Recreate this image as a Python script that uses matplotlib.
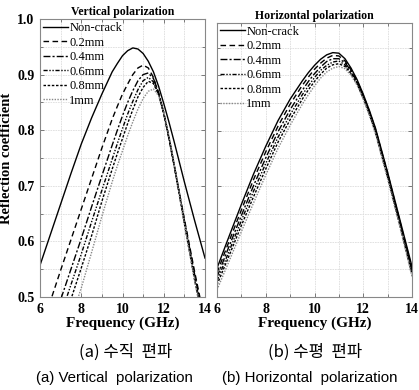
import matplotlib
matplotlib.use("Agg")
import matplotlib.pyplot as plt
from matplotlib.ticker import MultipleLocator

freq = [6, 6.5, 7, 7.5, 8, 8.5, 9, 9.5, 9.75, 10, 10.25, 10.5, 10.75, 11,
        11.25, 11.5, 11.75, 12, 12.25, 12.5, 13, 13.5, 14]
labels = ["Non-crack", "0.2mm", "0.4mm", "0.6mm", "0.8mm", "1mm"]

# Vertical polarization
v_noncrack = [0.557, 0.612, 0.667, 0.722, 0.775, 0.822, 0.865, 0.905, 0.920, 0.934, 0.943, 0.948,
              0.946, 0.938, 0.924, 0.905, 0.879, 0.848, 0.815, 0.780, 0.707, 0.637, 0.570]
v_02 = [0.440, 0.492, 0.548, 0.603, 0.658, 0.713, 0.768, 0.820, 0.843, 0.865, 0.883, 0.900,
        0.912, 0.917, 0.912, 0.895, 0.866, 0.830, 0.785, 0.737, 0.640, 0.545, 0.455]
v_04 = [0.385, 0.440, 0.495, 0.550, 0.605, 0.662, 0.718, 0.773, 0.800, 0.826, 0.850, 0.871,
        0.889, 0.900, 0.903, 0.893, 0.868, 0.832, 0.788, 0.740, 0.638, 0.540, 0.448]
v_06 = [0.360, 0.410, 0.467, 0.522, 0.577, 0.635, 0.692, 0.748, 0.776, 0.803, 0.829, 0.852,
        0.873, 0.889, 0.895, 0.887, 0.865, 0.830, 0.787, 0.738, 0.635, 0.535, 0.443]
v_08 = [0.330, 0.385, 0.440, 0.496, 0.552, 0.610, 0.672, 0.730, 0.758, 0.785, 0.812, 0.837,
        0.860, 0.877, 0.888, 0.884, 0.864, 0.830, 0.787, 0.737, 0.632, 0.530, 0.438]
v_10 = [0.290, 0.345, 0.400, 0.460, 0.516, 0.580, 0.645, 0.707, 0.736, 0.763, 0.790, 0.815,
        0.838, 0.857, 0.870, 0.874, 0.862, 0.832, 0.790, 0.740, 0.632, 0.528, 0.435]

# Horizontal polarization
h_noncrack = [0.552, 0.610, 0.667, 0.722, 0.772, 0.818, 0.857, 0.890, 0.905, 0.918, 0.929, 0.937,
              0.941, 0.940, 0.930, 0.913, 0.892, 0.866, 0.837, 0.805, 0.725, 0.640, 0.555]
h_02 = [0.544, 0.601, 0.657, 0.712, 0.762, 0.808, 0.848, 0.882, 0.897, 0.911, 0.922, 0.931,
        0.936, 0.935, 0.926, 0.910, 0.890, 0.864, 0.835, 0.803, 0.723, 0.637, 0.551]
h_04 = [0.536, 0.592, 0.647, 0.701, 0.751, 0.798, 0.838, 0.873, 0.889, 0.903, 0.915, 0.925,
        0.930, 0.930, 0.923, 0.908, 0.888, 0.862, 0.833, 0.801, 0.720, 0.635, 0.548]
h_06 = [0.529, 0.583, 0.638, 0.691, 0.741, 0.788, 0.829, 0.865, 0.881, 0.896, 0.909, 0.918,
        0.924, 0.926, 0.919, 0.905, 0.886, 0.861, 0.832, 0.799, 0.718, 0.632, 0.544]
h_08 = [0.522, 0.575, 0.629, 0.681, 0.731, 0.779, 0.820, 0.857, 0.874, 0.889, 0.902, 0.913,
        0.919, 0.921, 0.916, 0.903, 0.884, 0.859, 0.830, 0.797, 0.716, 0.630, 0.541]
h_10 = [0.513, 0.565, 0.618, 0.670, 0.720, 0.768, 0.810, 0.848, 0.865, 0.881, 0.895, 0.906,
        0.913, 0.916, 0.912, 0.900, 0.882, 0.857, 0.828, 0.795, 0.713, 0.627, 0.537]

styles = [
    dict(color="black", linestyle="-", lw=1.0),
    dict(color="black", linestyle=(0, (4, 2.5)), lw=1.0),
    dict(color="black", linestyle=(0, (5, 1.5, 1.5, 1.5)), lw=1.0),
    dict(color="black", linestyle=(0, (3, 1.2, 1, 1.2, 1, 1.2)), lw=1.0),
    dict(color="black", linestyle=(0, (1.8, 1.2)), lw=1.0),
    dict(color="#888888", linestyle=(0, (1, 1)), lw=1.0),
]

serif = "Liberation Serif"
fig = plt.figure(figsize=(4.19, 3.90), dpi=100)
ax1 = fig.add_axes([40 / 419, 93 / 390, 165 / 419, 278 / 390])
ax2 = fig.add_axes([217 / 419, 93 / 390, 195 / 419, 274.3 / 390])


def setup(ax, series, title, ytop, show_y):
    for s, lab, st in zip(series, labels, styles):
        ax.plot(freq, s, label=lab, **st)
    ax.set_xlim(6, 14)
    ax.set_ylim(0.5, ytop)
    ax.xaxis.set_major_locator(MultipleLocator(2))
    ax.xaxis.set_minor_locator(MultipleLocator(1))
    ax.yaxis.set_major_locator(MultipleLocator(0.1))
    ax.yaxis.set_minor_locator(MultipleLocator(0.05))
    ax.grid(True, which="both", color="#dddddd", lw=0.6, linestyle=(0, (2, 1)))
    ax.set_axisbelow(True)
    ax.tick_params(which="both", direction="in", top=True, right=True,
                   labelsize=10, width=0.6, color="#666666", pad=4)
    ax.tick_params(which="major", length=3)
    ax.tick_params(which="minor", length=2)
    for lbl in ax.get_xticklabels() + ax.get_yticklabels():
        lbl.set_fontfamily(serif)
        lbl.set_fontweight("bold")
    if show_y:
        ax.set_yticks([0.5, 0.6, 0.7, 0.8, 0.9, 1.0])
        ax.set_yticklabels(["0.5", "0.6", "0.7", "0.8", "0.9", "1.0"],
                           fontfamily=serif, fontweight="bold", fontsize=10)
        ax.set_ylabel("Reflection coefficient", fontfamily=serif, fontweight="bold",
                      fontsize=10.5, labelpad=3)
    else:
        ax.tick_params(axis="y", labelleft=False)
    ax.set_xlabel("Frequency (GHz)", fontfamily=serif, fontweight="bold", fontsize=11, labelpad=1)
    ax.set_title(title, fontfamily=serif, fontweight="bold", fontsize=8.5, pad=3)
    for sp in ax.spines.values():
        sp.set_color("#888888")
        sp.set_linewidth(0.8)
    leg = ax.legend(loc="upper left", frameon=False, handlelength=2.0, handletextpad=0.1,
                    labelspacing=0.2, borderaxespad=0.1, borderpad=0.15,
                    prop=dict(family=serif, size=9))
    return leg


setup(ax1, [v_noncrack, v_02, v_04, v_06, v_08, v_10], "Vertical polarization", 1.0, True)
setup(ax2, [h_noncrack, h_02, h_04, h_06, h_08, h_10], "Horizontal polarization", 0.995, False)

ko = ["Noto Sans CJK KR", "DejaVu Sans"]
fig.text(126 / 419, 1 - 352 / 390, "(a) 수직  편파", ha="center", va="center",
         family=ko, fontsize=12)
fig.text(315 / 419, 1 - 352 / 390, "(b) 수평  편파", ha="center", va="center",
         family=ko, fontsize=12)
fig.text(114 / 419, 1 - 378 / 390, "(a) Vertical  polarization", ha="center", va="center",
         family="Liberation Sans", fontsize=10.8)
fig.text(310 / 419, 1 - 378 / 390, "(b) Horizontal  polarization", ha="center", va="center",
         family="Liberation Sans", fontsize=10.8)

fig.savefig("out.png", dpi=100)
